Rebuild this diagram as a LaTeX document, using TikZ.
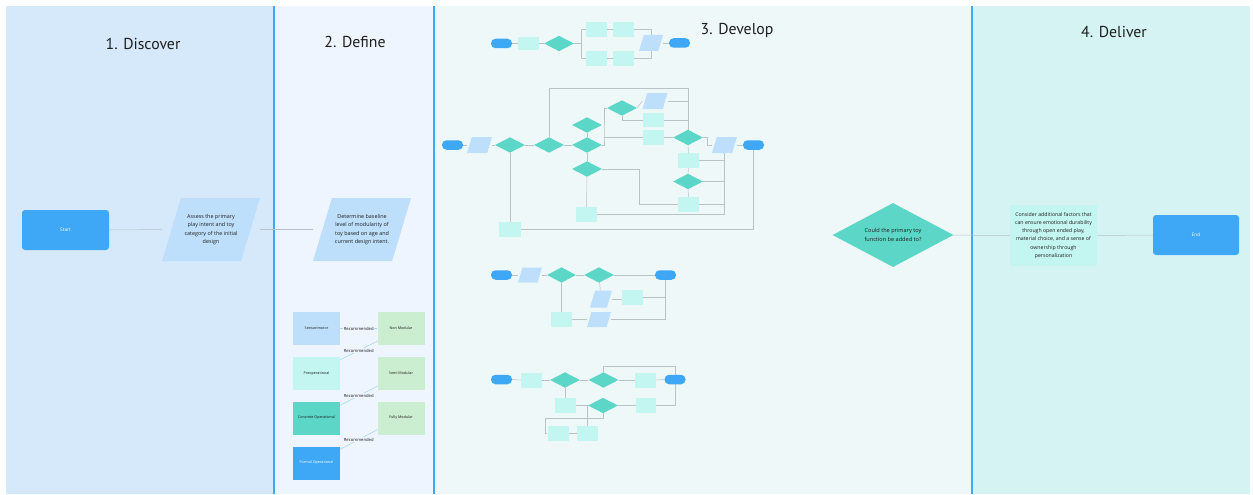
\documentclass[tikz,border=0pt]{standalone}
\usepackage{fontspec}
\setmainfont{Open Sans}
\newfontfamily\headfont{PT Sans}
\usetikzlibrary{shapes.geometric,calc}

\definecolor{cblue}{HTML}{3EA8F6}
\definecolor{cpara}{HTML}{BEDFFC}
\definecolor{ccyan}{HTML}{C4F6F1}
\definecolor{cteal}{HTML}{5CD6C6}
\definecolor{cgreen}{HTML}{CCEED0}
\definecolor{bgdisc}{HTML}{D5E9FB}
\definecolor{bgdef}{HTML}{EEF5FE}
\definecolor{bgdev}{HTML}{EEF8F9}
\definecolor{bgdel}{HTML}{D6F3F3}
\definecolor{divider}{HTML}{3FA9F5}
\definecolor{clink}{HTML}{B7C3C6}
\definecolor{crec}{HTML}{A9D6F6}
\definecolor{ink}{HTML}{1E1E1E}

\pgfdeclarelayer{bg}
\pgfdeclarelayer{links}
\pgfsetlayers{bg,links,main}

\tikzset{
  pill/.style={rectangle, rounded corners=4.5pt, fill=cblue, minimum width=21pt,
    minimum height=9.5pt, inner sep=0pt},
  para/.style={rectangle, inner sep=0pt, minimum width=25pt, minimum height=16pt,
    path picture={\fill[cpara] let \p1=(path picture bounding box.south west),
      \p2=(path picture bounding box.north east), \n1={0.3*abs(\y2-\y1)} in
      (\x1,\y1) -- (\x1+\n1,\y2) -- (\x2,\y2) -- (\x2-\n1,\y1) -- cycle;}},
  box/.style={rectangle, fill=ccyan, minimum width=21pt, minimum height=15pt, inner sep=0pt},
  dia/.style={diamond, fill=cteal, minimum width=30pt, minimum height=15.5pt, inner sep=0pt},
  link/.style={draw=clink, line width=0.5pt},
  rec/.style={draw=crec, line width=0.6pt},
  stage/.style={rectangle, minimum width=47pt, minimum height=33pt, inner sep=0pt,
    text=ink, font=\fontsize{3.7}{4.5}\selectfont},
  reclabel/.style={fill=bgdef, inner sep=0.8pt, text=ink, font=\fontsize{4.2}{5}\selectfont},
  title/.style={text=ink, font=\headfont\fontsize{15.8}{19}\selectfont},
  body/.style={text=ink, align=center, font=\fontsize{5.4}{8.2}\selectfont},
}

\begin{document}
\begin{tikzpicture}[x=1pt,y=-1pt]
\useasboundingbox (0,0) rectangle (1253,495);

% phase columns
\begin{pgfonlayer}{bg}
  \fill[white] (0,0) rectangle (1253,495);
  \fill[bgdisc] (6,6) rectangle (274,494);
  \fill[bgdef] (274,6) rectangle (434,494);
  \fill[bgdev] (434,6) rectangle (972,494);
  \fill[bgdel] (972,6) rectangle (1250,494);
  \draw[divider, line width=1.6pt] (274,6) -- (274,494);
  \draw[divider, line width=1.6pt] (434,6) -- (434,494);
  \draw[divider, line width=1.6pt] (972,6) -- (972,494);
\end{pgfonlayer}

% phase titles
\node[title] (h1) at (143,44) {1. Discover};
\node[title] (h2) at (355,42) {2. Define};
\node[title] (h3) at (737,30) {3. Develop};
\node[title] (h4) at (1114,32) {4. Deliver};

% ---------- Discover / Define main line ----------
\node[pill, rounded corners=3pt, minimum width=87pt, minimum height=40pt,
  text=white, font=\fontsize{4.8}{6}\selectfont] (start) at (65.5,230) {Start};
\node[para, minimum width=98pt, minimum height=63pt, body] (assess) at (211,229.5)
  {Assess the primary\\play intent and toy\\category of the initial\\design};
\node[para, minimum width=98pt, minimum height=63pt, body] (baseline) at (362,229.5)
  {Determine baseline\\level of modularity of\\toy based on age and\\current design intent.};

% ---------- Define: stage to modularity table ----------
\node[stage, fill=cpara] (s1) at (316.5,328.5) {Sensorimotor};
\node[stage, fill=ccyan] (s2) at (316.5,373.5) {Preoperational};
\node[stage, fill=cteal] (s3) at (316.5,418) {Concrete Operational};
\node[stage, fill=cblue, text=white] (s4) at (316.5,463) {Formal Operational};
\node[stage, fill=cgreen] (n1) at (401,328.5) {Non Modular};
\node[stage, fill=cgreen] (n2) at (401,373.5) {Semi Modular};
\node[stage, fill=cgreen] (n3) at (401,418) {Fully Modular};

% ---------- Develop: flow 1 ----------
\node[pill] (t0) at (501.5,43.5) {};
\node[box, minimum height=13pt] (t1) at (528.5,43.5) {};
\node[dia] (t2) at (559,43.5) {};
\node[box] (t3) at (596.5,29.5) {};
\node[box] (t4) at (623.5,29.5) {};
\node[box] (t5) at (596.5,58.5) {};
\node[box] (t6) at (623.5,58.5) {};
\node[para, minimum width=24pt] (t7) at (651,43) {};
\node[pill] (t8) at (679.5,43) {};
\coordinate (tsplit) at (581,43.5);

% ---------- Develop: flow 2 ----------
\node[pill] (m0) at (452.5,145) {};
\node[para] (m1) at (479.5,145) {};
\node[dia] (m2) at (510,145) {};
\node[dia] (m3) at (549,145) {};
\node[dia] (m4) at (587,145) {};
\node[dia] (m5) at (587,125) {};
\node[dia] (m6) at (587,169) {};
\node[dia] (ma) at (622,108) {};
\node[para] (mp1) at (655,101) {};
\node[box, minimum height=14pt] (mr1) at (653.5,120) {};
\node[box] (mr2) at (653.5,137.5) {};
\node[dia] (mb) at (688,137.5) {};
\node[para] (mp2) at (724.5,145) {};
\node[pill] (mend) at (753.5,145) {};
\node[box] (mrb) at (688.5,160.5) {};
\node[dia] (mc) at (688,181.5) {};
\node[box] (mrc) at (688.5,204.5) {};
\node[box] (mr5) at (586.5,214.5) {};
\node[box, minimum width=22pt] (mrl) at (510,229.5) {};
\coordinate (mtop) at (688,88);
\coordinate (mjoin) at (604,137.5);

% ---------- Develop: flow 3 ----------
\node[pill] (l0) at (501.5,275) {};
\node[para, minimum width=24pt, minimum height=15pt] (l1) at (530,275) {};
\node[dia, minimum width=29pt] (l2) at (561.5,275) {};
\node[dia] (l3) at (599,275) {};
\node[pill] (l4) at (665.5,275) {};
\node[para, minimum width=22pt, minimum height=17pt] (l5) at (601,299) {};
\node[box] (l6) at (632.5,297.5) {};
\node[box] (l7) at (561.5,319.5) {};
\node[para, minimum width=24pt, minimum height=15pt] (l8) at (599,319.5) {};

% ---------- Develop: flow 4 ----------
\node[pill] (w0) at (501.5,379.5) {};
\node[box] (w1) at (531.5,380) {};
\node[dia] (w2) at (565,380) {};
\node[dia] (w3) at (603.5,380) {};
\node[box] (w4) at (645.5,380) {};
\node[pill] (w5) at (675,379.5) {};
\node[box] (w6) at (565,405.5) {};
\node[dia] (w7) at (603,405.5) {};
\node[box, minimum width=20pt] (w8) at (646,405.5) {};
\node[box] (w9) at (558,433.5) {};
\node[box] (w10) at (587.5,433.5) {};

% ---------- Develop / Deliver main line ----------
\node[dia, minimum width=121pt, minimum height=64pt, aspect=2, body,
  font=\fontsize{5.6}{8.4}\selectfont] (grow) at (893,235)
  {Could the primary toy\\function be added to?};
\node[box, minimum width=87pt, minimum height=61pt, body,
  font=\fontsize{5.2}{8.2}\selectfont] (extra) at (1053.5,235.5)
  {Consider additional factors that\\can ensure emotional durability\\through open ended play,\\material choice, and a sense of\\ownership through\\personalization};
\node[pill, rounded corners=3pt, minimum width=86pt, minimum height=40pt,
  text=white, font=\fontsize{4.8}{6}\selectfont] (finish) at (1196,235) {End};

% ---------- connectors ----------
\begin{pgfonlayer}{links}
  \draw[link] (start) -- (assess);
  \draw[link] (assess) -- (baseline);

  \draw[rec] (s1) -- node[reclabel] (r1) {Recommended} (n1);
  \draw[rec] ($(s2.north east)+(0,3)$) -- node[reclabel] (r2) {Recommended} ($(n1.south west)+(0,-4)$);
  \draw[rec] ($(s3.north east)+(0,4)$) -- node[reclabel] (r3) {Recommended} ($(n2.south west)+(0,-4)$);
  \draw[rec] ($(s4.north east)+(0,3)$) -- node[reclabel] (r4) {Recommended} ($(n3.south west)+(0,-5)$);

  % flow 1
  \draw[link] (t0) -- (t1);
  \draw[link] (t1) -- (t2);
  \draw[link] (t2.east) -- (tsplit);
  \draw[link] (tsplit) |- (t3.west);
  \draw[link] (tsplit) |- (t5.west);
  \draw[link] (t3) -- (t4);
  \draw[link] (t5) -- (t6);
  \draw[link] (t4.east) -| (t7.north);
  \draw[link] (t6.east) -| (t7.south);
  \draw[link] (t7) -- (t8);

  % flow 2
  \draw[link] (m0) -- (m1);
  \draw[link] (m1) -- (m2);
  \draw[link] (m2) -- (m3);
  \draw[link] (m3) -- (m4);
  \draw[link] (m5) -- (m4);
  \draw[link] (m4) -- (m6);
  \draw[link] (m3.north) |- (mtop) -- (mb.north);
  \draw[link] (m4.east) -| (mjoin) |- (ma.west);
  \draw[link] (mjoin) -- (mr2.west);
  \draw[link] (ma.east) -- (mp1.west);
  \draw[link] (ma.south) |- (mr1.west);
  \draw[link] (mp1.east) -- (mp1.east -| mb);
  \draw[link] (mr1.east) -- (mr1.east -| mb);
  \draw[link] (mr2) -- (mb);
  \draw[link] (mb.east) -- ++(4,0) |- (mp2.west);
  \draw[link] (mp2) -- (mend);
  \draw[link] (mb) -- (mrb);
  \draw[link] (mrb) -- (mc);
  \draw[link] (mc) -- (mrc);
  \draw[link] (mrb.east) -- (mrb.east -| mp2);
  \draw[link] (mc.east) -- (mc.east -| mp2);
  \draw[link] (mrc.east) -- (mrc.east -| mp2);
  \draw[link] (mr5.east) -| (mp2.south);
  \draw[link] (m6.east) -- ++(37,0) |- (mrc.west);
  \draw[link] (m6) -- (mr5);
  \draw[link] (m2) -- (mrl);
  \draw[link] (mrl.east) -| (mend.south);

  % flow 3
  \draw[link] (l0) -- (l1);
  \draw[link] (l1) -- (l2);
  \draw[link] (l2) -- (l3);
  \draw[link] (l3) -- (l4);
  \draw[link] (l3) -- (l5);
  \draw[link] (l5.east) -- (l6.west |- l5.east);
  \draw[link] (l6.east) -- (l6.east -| l4);
  \draw[link] (l4.south) |- (l8.east);
  \draw[link] (l2) -- (l7);
  \draw[link] (l7) -- (l8);

  % flow 4
  \draw[link] (w0) -- (w1);
  \draw[link] (w1) -- (w2);
  \draw[link] (w2) -- (w3);
  \draw[link] (w3) -- (w4);
  \draw[link] (w4) -- (w5);
  \draw[link] (w3.north) -- ++(0,-6) -| (w5.north);
  \draw[link] (w2) -- (w6);
  \draw[link] (w6) -- (w7);
  \draw[link] (w7) -- (w8);
  \draw[link] (w8.east) -| (w5.south);
  \draw[link] (w7.south) -- ++(0,5) -| ($(w9.west)+(-2,0)$) -- (w9.west);
  \draw[link] (w9) -- (w10);
  \draw[link] (w10.north) -- (w10.north |- w7);

  % deliver
  \draw[link] (grow) -- (extra);
  \draw[link] (extra) -- (finish);
\end{pgfonlayer}
\end{tikzpicture}
\end{document}
